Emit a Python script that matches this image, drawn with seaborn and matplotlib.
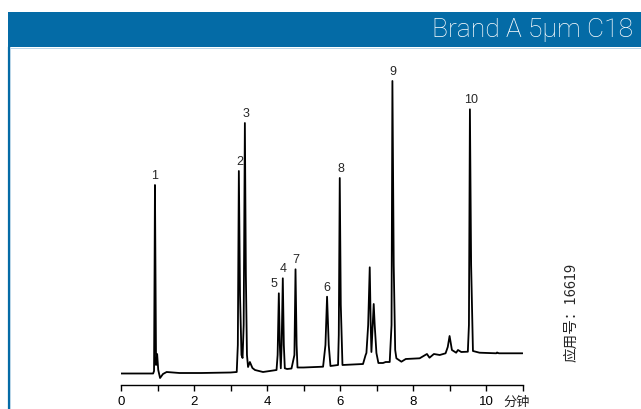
import numpy as np
import pandas as pd
import matplotlib
matplotlib.use('Agg')
import matplotlib.pyplot as plt
from matplotlib.patches import Rectangle
from matplotlib.lines import Line2D
import seaborn as sns

# chromatogram trace (time in min, signal in arbitrary units)
rt_min = [0.00, 0.88, 0.905, 0.92, 0.93, 0.945, 0.96, 0.99, 1.02, 1.07, 1.15, 1.25, 1.60, 2.20,
          3.00, 3.17, 3.20, 3.228, 3.26, 3.30, 3.33, 3.36, 3.393, 3.42, 3.45, 3.48, 3.53, 3.60,
          3.67, 3.89, 4.26, 4.29, 4.323, 4.35, 4.377, 4.40, 4.432, 4.46, 4.487, 4.55, 4.67, 4.75,
          4.78, 4.81, 4.834, 5.00, 5.535, 5.60, 5.644, 5.69, 5.737, 5.945, 5.965, 5.992, 6.02,
          6.066, 6.629, 6.70, 6.722, 6.77, 6.813, 6.84, 6.859, 6.922, 6.949, 6.996, 7.05, 7.176,
          7.25, 7.36, 7.41, 7.434, 7.47, 7.51, 7.543, 7.68, 7.80, 8.18, 8.38, 8.45, 8.57, 8.73,
          8.89, 8.95, 9.00, 9.064, 9.18, 9.23, 9.32, 9.50, 9.53, 9.557, 9.59, 9.64, 9.82, 10.28,
          10.30, 10.35, 11.00]
signal = [11.5, 11.5, 14, 120, 200, 110, 20, 31, 15, 7, 11, 13, 12, 12,
          12.5, 13, 40, 214, 90, 30, 27, 60, 262, 110, 30, 18, 23, 17,
          15, 13, 15, 30, 91.7, 40, 16.7, 40, 106.7, 40, 16.7, 16, 16.5, 30,
          115.7, 40, 17.5, 17.5, 18.3, 40, 88.3, 40, 19, 20, 50, 207, 80,
          20, 21, 30, 32, 60, 117.7, 60, 33, 81, 60, 32, 22, 22,
          23, 23, 60, 304, 120, 35, 26.7, 23.3, 26, 26.7, 31, 27.3, 31, 30,
          31.7, 38, 49, 35, 32.3, 35, 33, 33.3, 60, 275.7, 120, 34, 32.3, 31.7,
          32.5, 31.7, 31.7]

# peak numbers and their retention times
peak_labels = ['1', '2', '3', '5', '4', '7', '6', '8', '9', '10']
peak_rt = [0.93, 3.228, 3.393, 4.323, 4.432, 4.78, 5.644, 5.992, 7.434, 9.557]
label_dx = [0.0, 0.03, 0.03, -0.12, 0.0, 0.0, 0.0, 0.03, 0.0, 0.03]

xticks = list(range(0, 12))
xtick_labels = ['0', '', '2', '', '4', '', '6', '', '8', '', '10', '']

title = 'Brand A 5μm C18'
x_unit = '分钟'
app_note = '应用号：16619'

df = pd.DataFrame({'rt': rt_min, 'signal': signal})

sns.set_style('white')
plt.rcParams['font.family'] = ['Liberation Sans', 'DejaVu Sans']
cjk = ['Noto Sans CJK SC', 'DejaVu Sans']
blue = '#046ba6'

fig = plt.figure(figsize=(6.41, 4.09), dpi=100)
W, H = 641, 409

# header bar and left border
fig.patches.append(Rectangle((8 / W, 1 - 47 / H), 1 - 8 / W, 35 / H, transform=fig.transFigure,
                             facecolor=blue, edgecolor='none', zorder=0))
fig.lines.append(Line2D([8.8 / W, 8.8 / W], [0, 1 - 47 / H], transform=fig.transFigure,
                        color=blue, lw=1.6))
fig.lines.append(Line2D([10.2 / W, 10.2 / W], [0, 1 - 47 / H], transform=fig.transFigure,
                        color='#b9d6e8', lw=0.7))
fig.lines.append(Line2D([10 / W, 1], [1 - 47.8 / H, 1 - 47.8 / H], transform=fig.transFigure,
                        color='#b9d6e8', lw=0.7))
fig.text(633 / W, 1 - 30.5 / H, title, ha='right', va='center', color='white', fontsize=19,
         family=['Roboto', 'Liberation Sans'], fontweight='light')

ax = fig.add_axes([121 / W, (H - 385) / H, 401.6 / W, 325 / H])
sns.lineplot(data=df, x='rt', y='signal', ax=ax, color='black', lw=1.3, estimator=None, sort=False)
ax.set_xlim(0, 11)
ax.set_ylim(0, 325)

for lab, rt, dx in zip(peak_labels, peak_rt, label_dx):
    h = df.loc[(df['rt'] - rt).abs() < 1e-6, 'signal'].iloc[0]
    ax.text(rt + dx, h + 3, lab, ha='center', va='bottom', fontsize=9)

ax.set_xticks(xticks)
ax.set_xticklabels(xtick_labels)
ax.set_yticks([])
ax.set_xlabel('')
ax.set_ylabel('')
for s in ['top', 'right', 'left']:
    ax.spines[s].set_visible(False)
ax.spines['bottom'].set_linewidth(1.0)
ax.spines['bottom'].set_color('black')
ax.tick_params(axis='x', direction='out', length=4, width=1.0, pad=4, labelsize=9.5,
               colors='black', bottom=True)
ax.patch.set_alpha(0)

ax.text(10.83, -17, x_unit, ha='center', va='center', fontsize=9.5, family=cjk)
fig.text(571.5 / W, 1 - 312 / H, app_note, rotation=90, ha='center', va='center',
         fontsize=10.5, family=cjk)

fig.savefig('out.png', dpi=100)
